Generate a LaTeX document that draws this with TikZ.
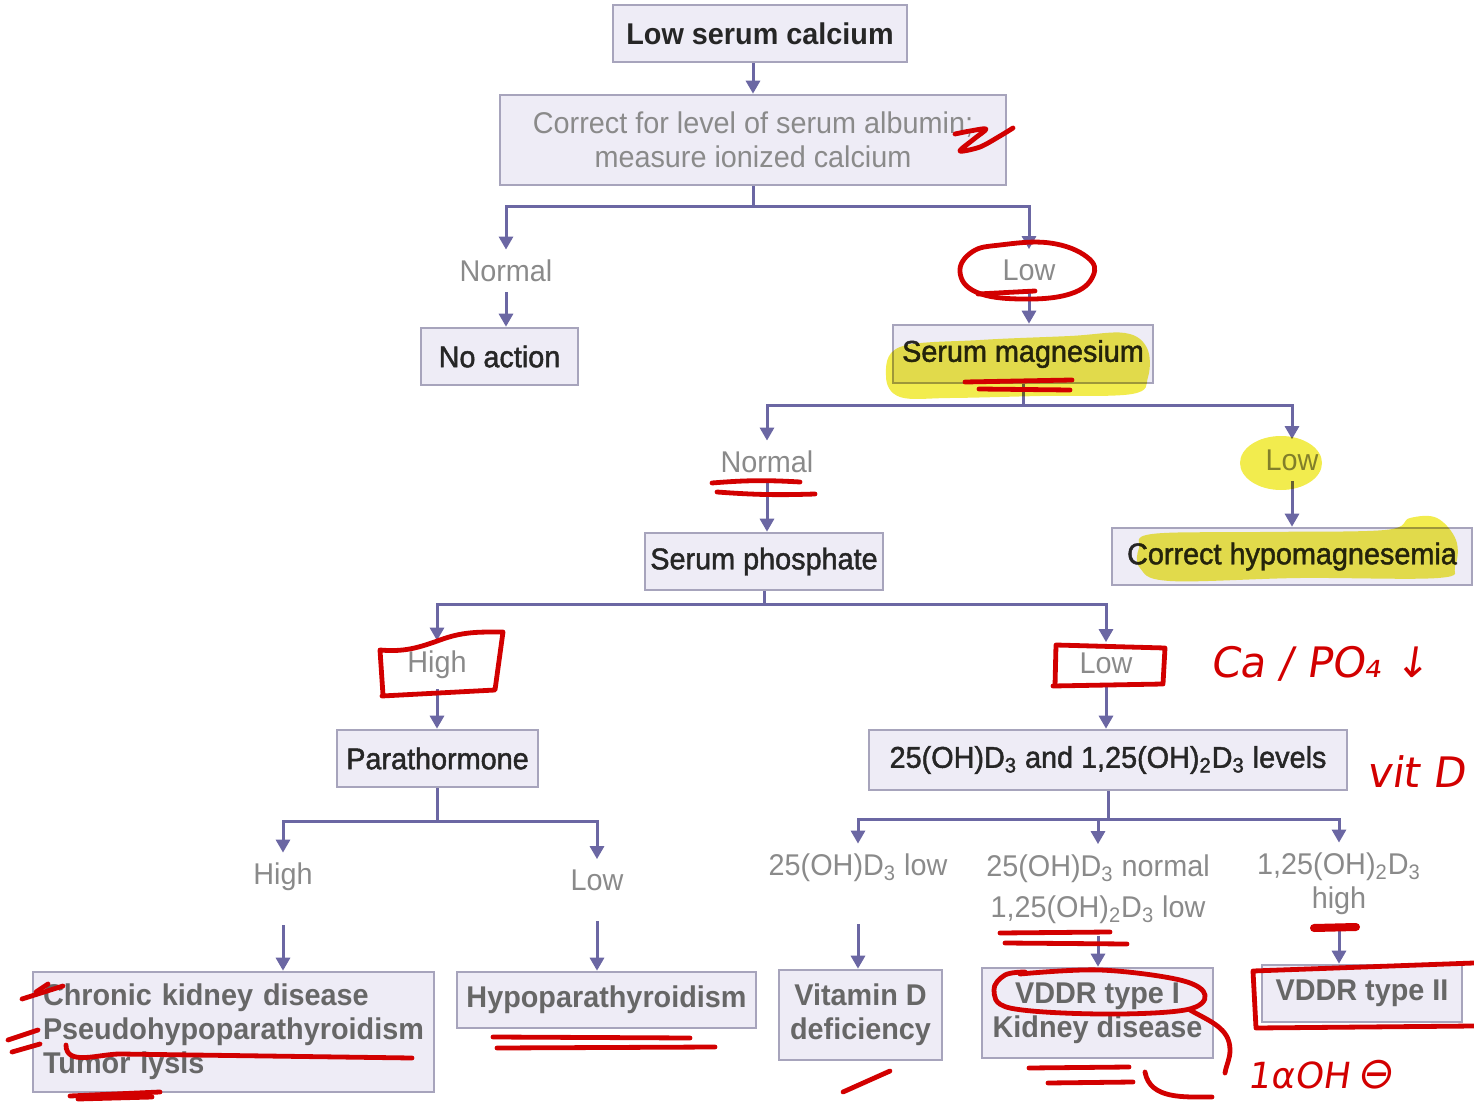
\documentclass[tikz,border=0pt]{standalone}
\usepackage{fontspec}
\setmainfont{Liberation Sans}[FakeStretch=0.96]
\newfontfamily\medfont{Liberation Sans}[FakeStretch=0.96, FakeBold=1.5]
\newfontfamily\handfont{DejaVu Sans}[FakeSlant=0.15]
\usetikzlibrary{arrows.meta}
\definecolor{boxfill}{HTML}{EEECF6}
\definecolor{boxline}{HTML}{A7A4BC}
\definecolor{connline}{HTML}{6B67A3}
\definecolor{darktext}{HTML}{262626}
\definecolor{greytext}{HTML}{8A8A8A}
\definecolor{midtext}{HTML}{676767}
\definecolor{inkred}{HTML}{D20000}
\definecolor{marker}{HTML}{F2EC4E}
\newcommand\fsz{\fontsize{15}{17}\selectfont}
\begin{document}
\begin{tikzpicture}[x=0.5pt,y=-0.5pt,
  sz/.style 2 args={minimum width=#1*0.5pt, minimum height=#2*0.5pt},
  box/.style={draw=boxline, fill=boxfill, line width=1.3pt, inner sep=2pt, font=\medfont\fsz, text=darktext},
  boldbox/.style={box, font=\fsz\bfseries, text=midtext},
  lab/.style={font=\fsz, text=greytext, inner xsep=2pt, inner ysep=5pt},
  conn/.style={draw=connline, line width=1.5pt, -{Triangle[width=7pt,length=6.5pt]}},
  ink/.style={draw=inkred, line width=2.4pt, line cap=round, line join=round},
  hand/.style={text=inkred, font=\handfont\fontsize{21}{23}\selectfont, inner sep=0pt},
  hilite/.style={fill=marker, draw=none}]
\useasboundingbox (0,0) rectangle (1474,1102);

% ---- boxes and labels
\node[box, sz={294}{57}, font=\fsz\bfseries] (b1) at (760,33.5) {Low serum calcium};
\node[box, sz={506}{90}, align=center, font=\fsz, text=greytext] (b2) at (753,140)
  {Correct for level of serum albumin;\\measure ionized calcium};
\node[lab] (n1) at (506,271) {Normal};
\node[box, sz={157}{57}] (noact) at (499.5,356.5) {No action};
\node[lab] (l1) at (1029,270) {Low};
\node[box, sz={260}{58}] (mg) at (1023,354) {Serum magnesium};
\node[lab] (n2) at (767,462) {Normal};
\node[lab] (l2) at (1292,460) {Low};
\node[box, sz={238}{57}] (phos) at (764,561.5) {Serum phosphate};
\node[box, sz={360}{57}] (hypomg) at (1292,556.5) {Correct hypomagnesemia};
\node[lab] (h3) at (437,665) {High};
\node[lab] (l3) at (1106,663) {Low};
\node[box, sz={201}{57}] (pth) at (437.5,758.5) {Parathormone};
\node[box, sz={478}{60}] (vitd) at (1108,760)
  {25(OH)D\textsubscript{3} and 1,25(OH)\textsubscript{2}D\textsubscript{3} levels};
\node[lab] (h4) at (283,877) {High};
\node[lab] (l4) at (597,880) {Low};
\node[lab] (d1) at (858,868) {25(OH)D\textsubscript{3} low};
\node[lab, align=center] (d2) at (1098,889)
  {25(OH)D\textsubscript{3} normal\\[3.5pt]1,25(OH)\textsubscript{2}D\textsubscript{3} low};
\node[lab, align=center] (d3) at (1339,884) {1,25(OH)\textsubscript{2}D\textsubscript{3}\\high};

\node[boldbox, text width=381*0.5pt, inner xsep=5pt, align=left, minimum height=60pt] (ckd) at (233.5,1032)
  {Chronic kidney disease\\Pseudohypoparathyroidism\\Tumor lysis};
\node[boldbox, sz={299}{56}] (hypo) at (606.5,1000) {Hypoparathyroidism};
\node[boldbox, sz={163}{90}, align=center] (vdef) at (860.5,1015) {Vitamin D\\deficiency};
\node[boldbox, sz={231}{90}, align=center] (vddr1) at (1097.5,1013) {VDDR type I\\Kidney disease};
\node[boldbox, sz={200}{57}] (vddr2) at (1362,993.5) {VDDR type II};

% ---- connectors
\draw[conn] (b2.north |- b1.south) -- (b2.north);
\draw[conn] (b2.south) -- ++(0,20) -| (n1.north);
\draw[conn] (b2.south) -- ++(0,20) -| (l1.north);
\draw[conn] (n1.south) -- (n1.south |- noact.north);
\draw[conn] (l1.south) -- (l1.south |- mg.north);
\draw[conn] (mg.south) -- ++(0,21) -| (n2.north);
\draw[conn] (mg.south) -- ++(0,21) -| (l2.north);
\draw[conn] (n2.south) -- (n2.south |- phos.north);
\draw[conn] (l2.south) -- (l2.south |- hypomg.north);
\draw[conn] (phos.south) -- ++(0,13) -| (h3.north);
\draw[conn] (phos.south) -- ++(0,13) -| (l3.north);
\draw[conn] (h3.south) -- (h3.south |- pth.north);
\draw[conn] (l3.south) -- (l3.south |- vitd.north);
\draw[conn] (pth.south) -- ++(0,33) -| (h4.north);
\draw[conn] (pth.south) -- ++(0,33) -| (l4.north);
\draw[conn, shorten <=12pt] (h4.south) -- (h4.south |- ckd.north);
\draw[conn, shorten <=10pt] (l4.south) -- (l4.south |- hypo.north);
\draw[conn] (vitd.south) -- ++(0,28) -| (d1.north);
\draw[conn] (vitd.south) -- ++(0,28) -| (d2.north);
\draw[conn] (vitd.south) -- ++(0,28) -| (d3.north);
\draw[conn, shorten <=16pt] (d1.south) -- (d1.south |- vdef.north);
\draw[conn, shorten <=1pt] (d2.south) -- (d2.south |- vddr1.north);
\draw[conn, shorten <=1pt] (d3.south) -- (d3.south |- vddr2.north);

% ---- highlighter strokes
\begin{scope}[blend mode=multiply]
  \path[hilite] plot[smooth cycle, tension=0.6] coordinates
    {(900,347) (980,340) (1070,336) (1125,333) (1147,348) (1148,377) (1132,394) (1040,396) (950,398) (900,397) (886,376)};
  \path[hilite] (1281,463) ellipse [x radius=20.5pt, y radius=13.5pt];
  \path[hilite] plot[smooth cycle, tension=0.6] coordinates
    {(1152,534) (1260,532) (1385,530) (1410,518) (1437,518) (1456,540) (1455,566) (1438,578) (1300,578) (1170,581) (1140,568) (1139,548)};
\end{scope}

% ---- pen annotations
\draw[ink] plot[smooth, tension=0.5] coordinates
  {(955,134) (970,131) (986,129) (974,139) (960,151) (980,147) (1000,136) (1013,128)};
\draw[ink] plot[smooth cycle, tension=0.7] coordinates
  {(1000,245) (1050,243) (1087,257) (1093,276) (1070,294) (1020,299) (976,292) (960,272) (972,252)};
\draw[ink] (978,294) -- (1035,291);
\draw[ink] (965,382) -- (1072,380);
\draw[ink] (979,389) -- (1070,390);
\draw[ink] (712,483) to[bend left=4] (800,482);
\draw[ink] (717,492) to[bend right=3] (815,494);
% box round the first "High"
\draw[ink] (383,695) -- (380,650) to[out=-5,in=200] (440,640) to[out=20,in=180] (503,632) -- (495,690) -- (382,696);
% box round the second "Low"
\draw[ink] (1055,686) -- (1056,645) -- (1165,648) -- (1163,684) -- (1053,686);
\node[hand, anchor=base west] (capo) at (1210,677) {Ca / PO₄ ↓};
\node[hand, anchor=base west] (vitdnote) at (1366,787) {vit D};
% bottom-left marks
\draw[ink] (22,999) -- (63,986);
\draw[ink] (36,992) -- (48,984);
\draw[ink] (8,1040) -- (38,1030);
\draw[ink] (12,1052) -- (40,1044);
\draw[ink] (66,1045) to[out=-90,in=180] (120,1054) -- (412,1058);
\draw[ink] (70,1096) -- (160,1092);
\draw[ink] (78,1099) -- (152,1097);
\draw[ink] (493,1037) -- (690,1038);
\draw[ink] (497,1048) -- (715,1047);
\draw[ink] (843,1092) -- (890,1071);
\draw[ink] (1000,933) -- (1110,932);
\draw[ink] (1005,943) -- (1127,944);
\draw[ink, line width=4pt] (1314,928) -- (1356,927);
% loop round "VDDR type I" with its tail
\draw[ink] plot[smooth, tension=0.6] coordinates
  {(1020,974) (1100,970) (1180,980) (1205,995) (1185,1010) (1100,1014) (1010,1008) (994,990) (1005,975) (1025,972)};
\draw[ink] (1190,1010) to[out=-30,in=90] (1230,1050) to[out=-90,in=80] (1225,1073);
\draw[ink] (1145,1072) to[out=-80,in=180] (1212,1097);
\draw[ink] (1029,1068) -- (1129,1067);
\draw[ink] (1048,1083) -- (1133,1082);
% box round "VDDR type II"
\draw[ink] (1474,963) -- (1253,971) -- (1256,1028) -- (1474,1026);
\node[hand, anchor=base west, font=\handfont\fontsize{18}{20}\selectfont] (alpha) at (1247,1088) {1αOH};
\node[hand, anchor=base west, font=\handfont\fontsize{22}{22}\selectfont] (minus) at ([xshift=3pt]alpha.base east) {⊖};
\end{tikzpicture}
\end{document}
